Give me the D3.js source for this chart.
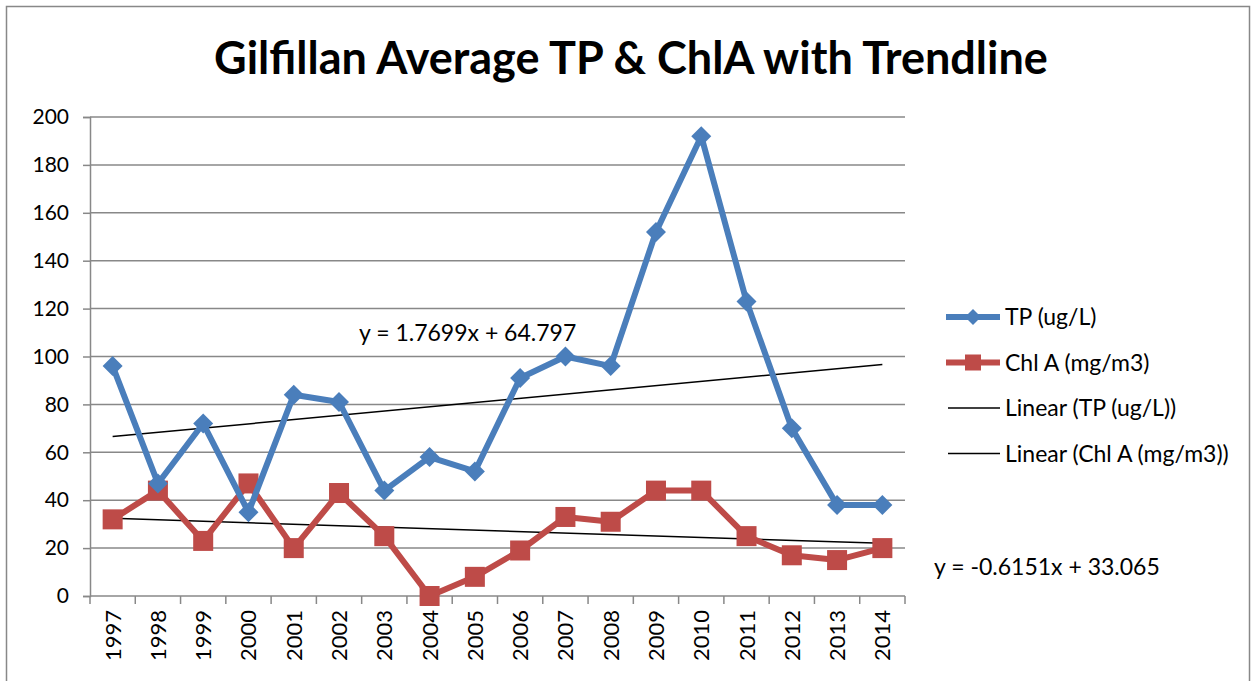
<!DOCTYPE html>
<html>
<head>
<meta charset="utf-8">
<script src="https://cdn.jsdelivr.net/npm/d3@7"></script>
<style>
  body { margin: 0; background: #fff; }
  text { font-family: Lato, "Open Sans", sans-serif; fill: #000; }
</style>
</head>
<body>
<svg class="chart"></svg>
<script>
var svgWidth = 1253, svgHeight = 681;

var years = ['1997','1998','1999','2000','2001','2002','2003','2004','2005',
             '2006','2007','2008','2009','2010','2011','2012','2013','2014'];
var tp   = [96, 47, 72, 35, 84, 81, 44, 58, 52, 91, 100, 96, 152, 192, 123, 70, 38, 38];
var chla = [32, 44, 23, 47, 20, 43, 25, 0, 8, 19, 33, 31, 44, 44, 25, 17, 15, 20];
var yTicks = [0, 20, 40, 60, 80, 100, 120, 140, 160, 180, 200];
// trendline coefficients as printed on the chart (x = 1..18)
var trendTP = { slope: 1.7699, intercept: 64.797 };
var trendChl = { slope: -0.6151, intercept: 33.065 };
var legendNames = ['TP (ug/L)', 'Chl A (mg/m3)', 'Linear (TP (ug/L))', 'Linear (Chl A (mg/m3))'];

var blue = '#4a7ebb', red = '#be4b48';
var plot = { left: 90, right: 905, top: 117, bottom: 596 };

var svg = d3.select('svg.chart').attr('width', svgWidth).attr('height', svgHeight);

// outer border
svg.append('rect')
    .attr('x', 6.5).attr('y', 6.5)
    .attr('width', svgWidth - 10).attr('height', svgHeight)
    .attr('fill', 'none').attr('stroke', '#888').attr('stroke-width', 1.5);

svg.append('text')
    .attr('x', 631).attr('y', 74)
    .attr('text-anchor', 'middle')
    .style('font-size', '45px').style('font-weight', 'bold')
    .text('Gilfillan Average TP & ChlA with Trendline');

var x = d3.scaleBand().domain(years).range([plot.left, plot.right]);
var y = d3.scaleLinear().domain([0, 200]).range([plot.bottom, plot.top]);
var cx = function(i) { return x(years[i]) + x.bandwidth() / 2; };

// gridlines
svg.append('g')
    .selectAll('line')
    .data(yTicks.slice(1))
    .enter()
    .append('line')
    .attr('x1', plot.left).attr('x2', plot.right)
    .attr('y1', function(d) { return y(d); })
    .attr('y2', function(d) { return y(d); })
    .attr('stroke', '#888').attr('stroke-width', 1.5);

var yAxis = svg.append('g')
    .attr('transform', 'translate(' + plot.left + ',0)')
    .call(d3.axisLeft(y).tickValues(yTicks).tickSize(7).tickPadding(14));
yAxis.select('.domain').attr('stroke', '#888').attr('stroke-width', 1.5);
yAxis.selectAll('.tick line').attr('stroke', '#888').attr('stroke-width', 1.5);
yAxis.selectAll('text').style('font-size', '21px');

// x axis: ticks at category boundaries
var xg = svg.append('g');
xg.append('line')
    .attr('x1', plot.left).attr('x2', plot.right)
    .attr('y1', plot.bottom).attr('y2', plot.bottom)
    .attr('stroke', '#888').attr('stroke-width', 1.5);
xg.selectAll('line.tk')
    .data(d3.range(years.length + 1))
    .enter()
    .append('line')
    .attr('class', 'tk')
    .attr('x1', function(i) { return plot.left + i * x.step(); })
    .attr('x2', function(i) { return plot.left + i * x.step(); })
    .attr('y1', plot.bottom).attr('y2', plot.bottom + 8)
    .attr('stroke', '#888').attr('stroke-width', 1.5);
xg.selectAll('text')
    .data(years)
    .enter()
    .append('text')
    .attr('transform', function(d, i) {
        return 'translate(' + (cx(i) + 8) + ',' + (plot.bottom + 14) + ') rotate(-90)';
    })
    .attr('text-anchor', 'end')
    .style('font-size', '22px')
    .text(function(d) { return d; });

var line = d3.line()
    .x(function(d, i) { return cx(i); })
    .y(function(d) { return y(d); });

// trendlines
function trendPts(t) {
    return [1, years.length].map(function(k) { return [cx(k - 1), y(t.slope * k + t.intercept)]; });
}
[trendTP, trendChl].forEach(function(t) {
    svg.append('path')
        .attr('d', d3.line()(trendPts(t)))
        .attr('fill', 'none').attr('stroke', '#000').attr('stroke-width', 1.5);
});

// ChlA series
svg.append('path')
    .attr('d', line(chla))
    .attr('fill', 'none').attr('stroke', red).attr('stroke-width', 6)
    .attr('stroke-linejoin', 'round');
svg.append('g')
    .selectAll('rect')
    .data(chla)
    .enter()
    .append('rect')
    .attr('x', function(d, i) { return cx(i) - 10; })
    .attr('y', function(d) { return y(d) - 10; })
    .attr('width', 20).attr('height', 20)
    .attr('fill', red);

// TP series
svg.append('path')
    .attr('d', line(tp))
    .attr('fill', 'none').attr('stroke', blue).attr('stroke-width', 6)
    .attr('stroke-linejoin', 'round');
var diamond = 'M0,-10L10,0L0,10L-10,0Z';
svg.append('g')
    .selectAll('path')
    .data(tp)
    .enter()
    .append('path')
    .attr('transform', function(d, i) { return 'translate(' + cx(i) + ',' + y(d) + ')'; })
    .attr('d', diamond)
    .attr('fill', blue);

// equation labels
svg.append('text')
    .attr('x', 359).attr('y', 341)
    .style('font-size', '23px')
    .text('y = ' + trendTP.slope + 'x + ' + trendTP.intercept);
svg.append('text')
    .attr('x', 934).attr('y', 575)
    .style('font-size', '23px')
    .text('y = ' + trendChl.slope + 'x + ' + trendChl.intercept);

// legend
var legend = svg.append('g').attr('class', 'legend');
var rows = legend.selectAll('g')
    .data(legendNames)
    .enter()
    .append('g')
    .attr('transform', function(d, i) { return 'translate(946,' + (317 + i * 45.5) + ')'; });
rows.append('line')
    .attr('x1', function(d, i) { return i < 2 ? 0 : 2; })
    .attr('x2', 54).attr('y1', 0).attr('y2', 0)
    .attr('stroke', function(d, i) { return i === 0 ? blue : i === 1 ? red : '#000'; })
    .attr('stroke-width', function(d, i) { return i < 2 ? 6 : 1.5; });
rows.filter(function(d, i) { return i === 0; })
    .append('path').attr('d', 'M27,-8L35,0L27,8L19,0Z').attr('fill', blue);
rows.filter(function(d, i) { return i === 1; })
    .append('rect').attr('x', 19).attr('y', -8).attr('width', 16).attr('height', 16).attr('fill', red);
rows.append('text')
    .attr('x', 59).attr('y', 8)
    .style('font-size', '23px')
    .text(function(d) { return d; });
</script>
</body>
</html>
